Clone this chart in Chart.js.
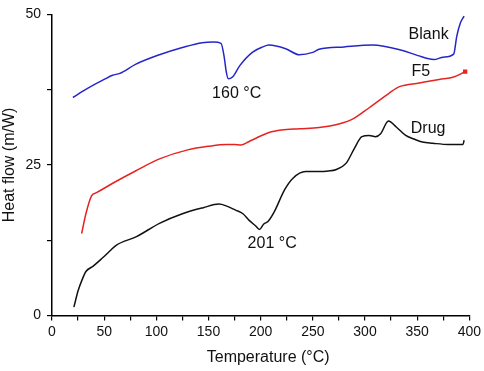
<!DOCTYPE html>
<html>
<head>
<meta charset="utf-8">
<script src="https://cdn.jsdelivr.net/npm/chart.js@4"></script>
<style>
  html, body { margin: 0; padding: 0; background: #fff; }
  canvas { display: block; }
</style>
</head>
<body>
<canvas id="dscChart" width="484" height="371"></canvas>
<script>
// temperatures (°C) and heat flow (m/W)
var blankTemp = [20, 30, 40, 50, 58, 65, 80, 103, 125, 144, 155, 162, 165, 167, 169, 173, 180, 192, 202, 208, 224, 237, 250, 256, 280, 307, 336, 350, 366, 375, 385, 388, 391.5, 395];
var blankFlow = [36.2, 37.3, 38.3, 39.2, 39.9, 40.2, 41.7, 43.3, 44.5, 45.3, 45.4, 45.2, 43.0, 40.5, 39.3, 39.6, 41.5, 43.7, 44.6, 44.9, 44.3, 43.3, 43.7, 44.2, 44.6, 44.9, 44.0, 43.2, 42.5, 42.9, 43.4, 46.4, 48.6, 49.7];

var f5Temp = [28.4, 32.5, 38, 42.7, 58.6, 80, 103, 130, 150, 167, 175, 181, 189, 200, 208, 220, 237, 256, 275, 288, 304, 323, 333, 352, 371, 385, 396];
var f5Flow = [13.6, 16.9, 19.9, 20.4, 22.0, 24.0, 26.0, 27.5, 28.1, 28.4, 28.4, 28.3, 28.9, 29.8, 30.4, 30.8, 31.0, 31.2, 31.8, 32.6, 34.5, 36.9, 38.0, 38.6, 39.2, 39.6, 40.5];

var drugTemp = [21, 25, 29, 32.5, 39.5, 48, 55.4, 61.8, 81, 103, 125, 145, 160, 167, 176, 183, 189, 195, 199, 203, 207, 213, 223, 231, 243, 256, 265, 272, 282, 290, 297, 304, 310, 315, 322.5, 330, 339, 347, 355, 365, 380, 394, 395];
var drugFlow = [1.4, 4.1, 6.0, 7.3, 8.2, 9.5, 10.7, 11.7, 13.1, 15.3, 16.9, 17.9, 18.5, 18.2, 17.5, 16.9, 15.8, 14.9, 14.3, 15.2, 15.6, 17.2, 20.9, 22.8, 23.9, 23.9, 24.0, 24.2, 25.3, 27.8, 29.7, 29.9, 29.7, 30.2, 32.3, 31.3, 29.9, 29.3, 28.8, 28.6, 28.4, 28.4, 29.1];

var xTicks = [0, 50, 100, 150, 200, 250, 300, 350, 400];
var yTicks = [0, 25, 50];

// text labels placed in data coordinates
var noteText = ["Blank", "F5", "Drug", "160 °C", "201 °C"];
var noteTemp = [361, 353.5, 360.5, 177, 211];
var noteFlow = [46.7, 40.5, 31.0, 36.8, 12.0];

function pairs(xs, ys) {
  return xs.map(function (x, i) { return { x: x, y: ys[i] }; });
}

var notesPlugin = {
  id: 'notes',
  afterDatasetsDraw: function (chart) {
    var ctx = chart.ctx;
    var xs = chart.scales.x, ys = chart.scales.y;
    var area = chart.chartArea;
    ctx.save();
    ctx.font = '16px "Liberation Sans", Arial, sans-serif';
    ctx.fillStyle = '#111';
    ctx.textAlign = 'center';
    ctx.textBaseline = 'middle';
    noteText.forEach(function (t, i) {
      ctx.fillText(t, xs.getPixelForValue(noteTemp[i]), ys.getPixelForValue(noteFlow[i]));
    });
    // x axis title sits a little right of the plot centre in the original
    ctx.fillText('Temperature (°C)', area.left + (area.right - area.left) * 0.518, chart.height - 13);
    ctx.restore();
  }
};

Chart.defaults.font.family = '"Liberation Sans", Arial, sans-serif';
Chart.defaults.color = '#111';

var ctx = document.getElementById('dscChart').getContext('2d');
var myChart = new Chart(ctx, {
  type: 'line',
  data: {
    datasets: [{
      label: 'Blank',
      data: pairs(blankTemp, blankFlow),
      borderColor: '#2626c8',
      borderWidth: 1.5,
      pointRadius: 0,
      cubicInterpolationMode: 'monotone',
      fill: false
    }, {
      label: 'F5',
      data: pairs(f5Temp, f5Flow),
      borderColor: '#e52421',
      backgroundColor: '#e52421',
      borderWidth: 1.5,
      pointStyle: 'rect',
      pointRadius: function (c) { return c.dataIndex === f5Temp.length - 1 ? 2 : 0; },
      cubicInterpolationMode: 'monotone',
      fill: false
    }, {
      label: 'Drug',
      data: pairs(drugTemp, drugFlow),
      borderColor: '#111111',
      borderWidth: 1.5,
      pointRadius: 0,
      cubicInterpolationMode: 'monotone',
      fill: false
    }]
  },
  options: {
    responsive: false,
    animation: false,
    layout: { padding: { top: 8.5, right: 13.5, left: 0, bottom: 0 } },
    plugins: { legend: { display: false }, tooltip: { enabled: false } },
    scales: {
      x: {
        type: 'linear',
        min: 0,
        max: 400,
        afterFit: function (s) { s.height = 55.5; },
        border: { display: true, color: '#000', width: 1.5 },
        grid: { drawOnChartArea: false, drawTicks: true, tickLength: 5, color: '#000', lineWidth: 1.2 },
        ticks: {
          stepSize: 25,
          padding: 3,
          maxRotation: 0,
          autoSkip: false,
          font: { size: 14 },
          callback: function (v) { return xTicks.indexOf(v) >= 0 ? v : ''; }
        },
        title: { display: false }
      },
      y: {
        min: 0,
        max: 50,
        afterFit: function (s) { s.width = 52; },
        border: { display: true, color: '#000', width: 1.5 },
        grid: { drawOnChartArea: false, drawTicks: true, tickLength: 5, color: '#000', lineWidth: 1.2 },
        ticks: {
          stepSize: 12.5,
          padding: 6,
          autoSkip: false,
          font: { size: 14 },
          callback: function (v) { return yTicks.indexOf(v) >= 0 ? v : ''; }
        },
        title: { display: true, text: 'Heat flow (m/W)', font: { size: 16 }, padding: { top: 0, bottom: 0 } }
      }
    }
  },
  plugins: [notesPlugin]
});
</script>
</body>
</html>
